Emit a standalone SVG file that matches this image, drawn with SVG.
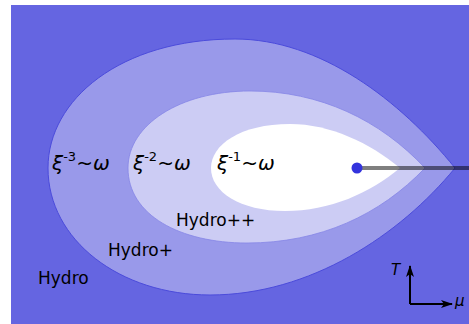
<svg xmlns="http://www.w3.org/2000/svg" width="469" height="324" viewBox="0 0 469 324">
<style>
text{font-family:"DejaVu Sans",sans-serif;fill:#000}
.lbl{font-size:17px}
.xi{font-size:20px}
.it{font-style:italic}
.sup{font-size:13px}
.ax{font-size:15px;font-style:italic}
</style>
<defs>
<marker id="ah" viewBox="0 0 12 8" refX="11" refY="4" markerWidth="12" markerHeight="8" markerUnits="userSpaceOnUse" orient="auto">
<path d="M0,0 L12,4 L0,8 L3,4 Z" fill="#000"/>
</marker>
</defs>
<rect x="11" y="5" width="458" height="319" fill="#6565e1"/>
<g id="hydro-plus">
<path d="M455,168 C400,100 320,39 235,39 C120,39 48,100 48,168 C48,240 120,295 210,295 C310,295 400,235 455,168 Z" fill="#9999ea" stroke="#4b4bdb" stroke-width="1"/>
</g>
<g id="hydro-plusplus">
<path d="M425,168 C380,120 320,91 250,91 C180,91 128,125 128,168 C128,215 180,243 247,243 C320,243 380,215 425,168 Z" fill="#ccccf4" stroke="#8585e6" stroke-width="0.8"/>
</g>
<g id="inner">
<path d="M400,168 C370,143 330,124 290,124 C240,124 211,145 211,168 C211,192 240,211 285,211 C330,211 370,193 400,168 Z" fill="#ffffff"/>
</g>
<g id="connectors">
<line x1="357" y1="168" x2="469" y2="168" stroke="#000" stroke-opacity="0.5" stroke-width="4"/>
<line x1="410" y1="304" x2="410" y2="266" stroke="#000" stroke-width="2" marker-end="url(#ah)"/>
<line x1="410" y1="304" x2="452" y2="304" stroke="#000" stroke-width="2" marker-end="url(#ah)"/>
</g>
<g id="critical-point">
<circle cx="357" cy="168" r="5.5" fill="#3333dd"/>
</g>
<g id="labels">
<text class="xi" x="52" y="170"><tspan class="it">ξ</tspan><tspan class="sup" dy="-9">-3</tspan><tspan dy="9">~</tspan><tspan class="it">ω</tspan></text>
<text class="xi" x="133" y="170"><tspan class="it">ξ</tspan><tspan class="sup" dy="-9">-2</tspan><tspan dy="9">~</tspan><tspan class="it">ω</tspan></text>
<text class="xi" x="217" y="170"><tspan class="it">ξ</tspan><tspan class="sup" dy="-9">-1</tspan><tspan dy="9">~</tspan><tspan class="it">ω</tspan></text>
<text class="lbl" x="176" y="226">Hydro++</text>
<text class="lbl" x="108" y="256">Hydro+</text>
<text class="lbl" x="38" y="284">Hydro</text>
<text class="ax" x="391" y="275">T</text>
<text class="ax" x="455" y="306">μ</text>
</g>
</svg>
